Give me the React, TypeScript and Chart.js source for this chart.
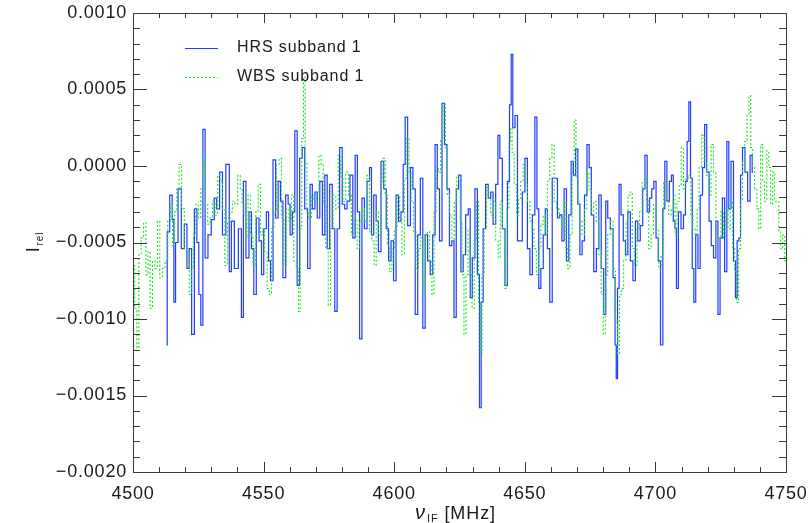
import React, { useEffect, useRef } from 'react';
import { Chart, registerables } from 'chart.js';

Chart.register(...registerables);

// ---- axes ----
const X_MIN = 4500;
const X_MAX = 4750;
const Y_MIN = -0.002;
const Y_MAX = 0.001;
const X_MAJOR = 50;
const X_MINOR = 10;
const Y_MAJOR = 0.0005;
const Y_MINOR = 0.0001;
const UNIT = 1e-4; // values below are in units of 1e-4

const SERIES_LABELS = ['HRS subband 1', 'WBS subband 1'];

// ---- HRS subband 1 (blue, solid) ----
const HRS_FREQ = [
  4512.8, 4513.4, 4514.7, 4515.3, 4516.0, 4516.6, 4517.9, 4519.1, 4520.2, 4521.1,
  4521.9, 4523.0, 4524.0, 4524.9, 4525.5, 4526.4, 4527.1, 4528.1, 4529.3, 4530.6,
  4531.6, 4532.5, 4533.8, 4534.7, 4536.4, 4537.3, 4538.0, 4539.6, 4541.1, 4541.9,
  4542.6, 4543.9, 4544.9, 4545.8, 4546.7, 4547.7, 4548.8, 4549.6, 4550.5, 4551.6,
  4552.2, 4553.1, 4554.1, 4555.1, 4556.0, 4556.9, 4557.9, 4559.0, 4559.8, 4560.5,
  4561.5, 4562.4, 4563.3, 4564.3, 4565.3, 4566.2, 4567.5, 4568.1, 4569.2, 4570.1,
  4571.0, 4572.0, 4573.0, 4573.9, 4574.8, 4575.8, 4576.8, 4577.7, 4578.6, 4579.6,
  4580.6, 4581.5, 4582.4,
  4583.7, 4584.6, 4585.5, 4586.3, 4587.2, 4588.1, 4589.1, 4590.1, 4591.0, 4591.6,
  4592.7, 4593.5, 4594.4, 4595.5, 4596.5, 4597.4, 4598.3, 4599.3, 4600.2, 4601.2,
  4602.1, 4603.1, 4603.8, 4604.6, 4605.7, 4606.7, 4607.6, 4608.5, 4609.5, 4610.5,
  4611.4, 4612.3, 4613.3, 4614.3, 4615.2, 4616.1, 4616.9, 4617.8, 4618.8, 4619.7,
  4620.7, 4621.6, 4622.5, 4623.3, 4624.2,
  4625.1, 4626.0, 4626.8, 4627.9, 4628.8, 4629.4, 4630.4, 4631.4, 4632.3, 4633.0,
  4633.6, 4634.5, 4635.5, 4636.5, 4637.4, 4638.3, 4639.4, 4640.0, 4640.9, 4641.9,
  4642.9, 4643.8, 4644.5, 4645.1, 4645.7, 4646.8, 4647.6, 4648.5, 4649.6, 4650.5,
  4651.5, 4652.4, 4653.4, 4654.3, 4655.0, 4655.7, 4656.6, 4657.5, 4658.2, 4659.1,
  4660.0, 4661.0, 4662.1, 4662.9, 4663.8, 4664.6, 4665.5,
  4666.4, 4667.3, 4668.2, 4669.0, 4669.9, 4670.7, 4671.5, 4672.4, 4673.3, 4674.3,
  4675.0, 4675.9, 4676.9, 4677.9, 4678.8, 4679.7, 4680.7, 4681.3, 4682.2, 4683.3,
  4684.3, 4684.8, 4685.2, 4685.8, 4686.4, 4687.3, 4688.1, 4689.0, 4689.9, 4690.9,
  4691.9, 4692.8, 4693.7, 4694.7, 4695.6, 4696.4, 4697.3, 4698.2, 4699.0, 4699.8,
  4700.7, 4701.5, 4702.4, 4703.3, 4703.9, 4704.9, 4705.8, 4706.5, 4707.2,
  4707.8, 4708.3, 4709.3, 4710.3, 4711.2, 4711.8, 4712.5, 4713.1, 4713.8, 4714.4,
  4715.0, 4715.9, 4716.7, 4717.6, 4718.5, 4719.2, 4720.1, 4721.0, 4721.8, 4722.7,
  4723.6, 4724.3, 4725.2, 4726.1, 4726.9, 4727.8, 4728.4, 4729.5, 4730.3, 4731.0,
  4731.6, 4732.3, 4732.9, 4733.8, 4734.8, 4735.8, 4736.7, 4737.4,
];
const HRS_VAL = [
  -11.7, -4.3, -1.9, -3.5, -8.9, -5.0, -1.5, -5.4, -3.8, -6.7,
  -5.4, -11.0, -2.8, -5.0, -8.4, -10.4, 2.4, -6.0, -4.5, -3.5,
  -2.1, -2.8, -0.4, -4.5, 0.1, -6.9, -3.6, -6.7, -4.1, -9.9,
  -1.0, -6.0, -3.0, -5.4, -8.4, -3.4, -4.9, -7.1, -4.1, -3.0,
  -6.2, -7.5, 0.4, -3.4, -1.0, -2.3, -7.3, -1.9, -2.5, -4.5,
  -3.0, 2.3, -7.8, 0.5, 1.2, -2.8, -6.7, -1.2, -2.8, -1.7,
  -3.4, -1.0, -4.5, -0.6, -5.4, -1.2, -4.1, -9.5, -4.1, 1.2,
  -2.5, -2.8, -2.3,
  -0.6, -4.7, 0.7, -3.0, -11.3, -2.1, -4.1, -1.0, -0.1, -4.5,
  -1.9, -3.6, -5.6, 0.3, -1.5, -4.1, -6.2, -4.9, -7.5, -1.9,
  -3.6, -3.0, 0.1, 3.2, -3.9, -0.1, -1.5, -9.7, -4.5, -0.8,
  -10.6, -4.5, -6.2, -7.1, -4.5, 1.4, -1.5, -4.9, 4.1, 1.4,
  -1.5, -5.2, -4.9, -9.9, -1.5,
  -0.6, -6.9, -5.8, -3.2, -2.8, -8.6, -6.0, -1.5, -7.1, -15.8,
  -8.9, -4.1, -1.2, -2.1, -1.7, -3.8, -1.2, 2.0, 0.5, -4.1,
  -7.8, -1.0, 4.0, 7.3, 2.5, 3.3, -4.9, -4.9, -1.7, 0.5,
  -5.4, -7.1, -3.2, 3.2, -2.8, -8.0, -6.7, -4.5, -2.8, -5.4,
  -8.9, -0.8, -0.8, -3.4, -3.2, -4.9, -1.5,
  -6.2, -3.2, 0.3, -0.6, 1.1, -2.5, -5.8, -4.9, -1.9, 1.4,
  -0.1, -3.2, -6.9, -5.4, -1.9, -6.7, -9.7, -2.3, -3.4, -4.1,
  -7.3, -11.7, -13.9, -8.0, -1.2, -3.2, -4.9, -5.8, -3.0, -6.2,
  -7.5, -3.6, -4.9, -3.9, -1.5, 0.7, -3.0, -2.1, -1.5, -1.0,
  -4.7, -6.2, -11.7, -2.8, 0.3, -2.3, -1.0, -0.6, -3.6,
  -4.1, -8.0, -3.0, -4.1, -3.2, -1.0, 1.6, 4.2, -0.8, -6.7,
  -8.9, -4.5, -6.7, -1.9, -0.1, 2.7, -0.4, -3.6, -5.2, -6.0,
  -3.6, -9.7, -4.7, -2.1, -6.9, 1.6, -2.8, 0.3, -6.2, -8.6,
  -4.9, -4.7, -0.6, 1.2, -0.4, -2.3, 0.7, -0.4,
];

// ---- WBS subband 1 (green, dotted) ----
const WBS_FREQ = [
  4500.2, 4501.0, 4501.9, 4502.6, 4503.6, 4504.5, 4505.4, 4506.1, 4507.0, 4507.9,
  4508.9, 4509.7, 4510.8, 4511.7, 4512.8, 4513.8, 4514.7, 4515.6, 4516.3, 4517.2,
  4518.1, 4519.1, 4520.2, 4521.1, 4521.9, 4522.7, 4523.6, 4524.5, 4525.5, 4526.4,
  4527.2, 4528.1, 4529.1, 4530.0, 4530.9, 4531.9, 4532.9, 4533.8, 4534.7, 4535.7,
  4536.7, 4537.6, 4538.5, 4539.6, 4540.6, 4541.5,
  4542.0, 4542.9, 4543.6, 4544.5, 4545.4, 4546.5, 4547.5, 4548.4, 4549.3, 4550.0,
  4550.9, 4551.8, 4552.6, 4553.5, 4554.4, 4555.4, 4556.4, 4557.3, 4558.2, 4559.2,
  4560.2, 4561.1, 4562.0, 4563.0, 4563.7, 4564.3, 4564.9, 4565.6, 4566.2, 4566.9,
  4567.8, 4568.8, 4569.7, 4570.7, 4571.6, 4572.4, 4573.3, 4574.3, 4575.2, 4576.1,
  4577.1, 4578.1, 4579.0, 4579.9, 4580.9, 4582.0, 4583.0,
  4584.2, 4585.3, 4586.3, 4587.2, 4588.1, 4589.1, 4590.1, 4591.0, 4591.9, 4592.7,
  4593.5, 4594.4, 4595.2, 4596.1, 4597.0, 4597.8, 4598.7, 4599.5, 4600.6, 4601.6,
  4602.5, 4603.4, 4604.4, 4605.3, 4606.1, 4606.9, 4607.8, 4608.9, 4609.8, 4610.5,
  4611.4, 4612.3, 4613.1, 4614.0, 4614.9, 4615.6, 4616.5, 4617.4, 4618.2, 4619.1,
  4620.0, 4620.7, 4621.6, 4622.5, 4623.5, 4624.4,
  4624.9, 4625.6, 4626.3, 4627.1, 4627.9, 4628.6, 4629.4, 4630.2, 4631.1, 4631.9,
  4632.7, 4633.2, 4634.0, 4634.9, 4635.8, 4636.5, 4637.4, 4638.3, 4639.4, 4640.2,
  4641.0, 4641.9, 4642.8, 4643.6, 4644.2, 4644.8, 4645.5, 4646.4, 4647.3, 4648.0,
  4648.9, 4649.8, 4650.6, 4651.5, 4652.4, 4653.1, 4654.0, 4654.9, 4655.7, 4656.6,
  4657.5, 4658.2, 4659.1, 4660.0, 4660.8, 4661.7, 4662.6, 4663.6, 4664.6, 4665.5,
  4666.0, 4666.9, 4667.7, 4668.6, 4669.2, 4670.0, 4670.7, 4671.5, 4672.4, 4673.3,
  4674.1, 4675.0, 4675.9, 4676.9, 4677.8, 4678.8, 4679.7, 4680.4, 4681.3, 4682.2,
  4683.3, 4684.3, 4685.2, 4685.8, 4686.6, 4687.3, 4688.4, 4689.1, 4689.9, 4690.7,
  4691.6, 4692.4, 4693.5, 4694.4, 4695.4, 4696.3, 4697.0, 4697.9, 4698.8, 4699.8,
  4700.7, 4701.8, 4702.6, 4703.7, 4704.6, 4705.6, 4706.5, 4707.2,
  4707.8, 4708.7, 4709.5, 4710.3, 4711.2, 4712.1, 4713.1, 4714.0, 4714.7, 4715.7,
  4716.3, 4717.2, 4718.2, 4719.1, 4720.0, 4720.8, 4721.8, 4722.7, 4723.6, 4724.6,
  4725.6, 4726.5, 4727.4, 4728.2, 4729.1, 4730.0, 4730.7, 4731.4, 4732.3, 4732.9,
  4733.8, 4734.6, 4735.5, 4736.1, 4736.9, 4737.6, 4738.4, 4739.3, 4739.9, 4740.7,
  4741.4, 4742.2, 4743.1, 4743.7, 4744.5, 4745.3, 4746.0, 4746.9, 4747.6, 4748.3,
  4749.1, 4749.9,
];
const WBS_VAL = [
  -6.5, -9.3, -11.9, -5.8, -4.7, -3.7, -7.1, -5.6, -9.3, -6.2,
  -6.7, -3.6, -7.3, -6.7, -6.2, -3.6, -2.5, -5.2, -3.0, -1.5,
  0.1, -2.8, -5.4, -6.2, -8.4, -6.7, -4.5, -2.5, -3.4, -1.5,
  0.5, -2.5, -3.8, -3.4, -2.3, -3.2, -0.6, -1.0, -2.8, -6.5,
  -3.6, -3.0, -2.3, -2.5, -0.6, -1.5,
  -2.5, -3.2, -4.7, -1.9, -4.5, -6.5, -3.0, -1.2, -4.5, -4.1,
  -5.6, -8.0, -8.4, -4.1, -3.0, 0.1, 0.5, -3.4, -6.5, -2.8,
  -3.6, -1.9, -6.2, -6.7, -9.5, -4.1, 1.8, 5.8, 0.3, -3.0,
  -3.4, -1.9, -2.3, -1.7, 0.7, 0.1, -2.5, -5.4, -9.1, -4.1,
  -1.9, -2.8, 0.7, -0.8, -2.3, -0.4, -1.9,
  -4.5, -3.4, -5.4, -3.6, -2.8, -3.6, -0.6, -4.3, -4.9, -6.5,
  -3.0, -4.5, -1.0, 0.5, -1.9, -5.2, -6.9, -5.4, -4.1, -1.9,
  -3.4, -5.8, -0.8, 1.8, -0.4, -2.3, -4.3, -6.7, -5.4, -4.7,
  -8.4, -4.5, -4.3, -6.2, -8.4, -3.0, -0.1, -0.4, 1.8, 4.0,
  1.2, -1.9, -3.2, -4.9, -2.3, -0.6,
  -1.0, -3.6, -7.1, -11.0, -7.1, -4.1, -7.1, -9.3, -4.9, -2.3,
  -8.9, -12.3, -7.1, -4.1, -1.4, -2.1, -3.2, -2.3, -4.9, -6.0,
  -2.3, -4.1, -8.0, -2.8, 1.6, 2.5, 0.9, -1.2, -3.2, -2.1,
  -1.0, 0.1, -1.2, -2.3, -3.6, -4.1, -5.4, -7.1, -5.4, -3.8,
  -3.2, -4.5, -1.0, 0.5, 1.4, -2.3, -2.8, -3.4, -4.1, -2.3,
  -5.4, -6.7, -4.5, 0.3, 3.0, -0.8, -2.3, -3.6, -4.5, -2.8,
  -0.4, -1.5, -3.0, -2.3, -3.6, -5.8, -8.4, -11.0, -7.1, -4.5,
  -3.6, -6.7, -10.2, -12.3, -8.4, -8.0, -6.2, -3.6, -1.9, -1.7,
  -5.4, -6.5, -4.1, -3.0, -1.0, -0.6, -2.3, -5.4, -4.5, -2.5,
  -4.1, -6.7, -5.8, -1.0, -2.3, -3.2, -2.8, -1.9,
  -4.5, -2.3, -1.2, 1.2, -1.5, -0.8, -0.6, -3.2, -4.1, -4.5,
  -2.8, -0.1, 2.0, 0.3, -0.6, -1.9, 1.4, -0.4, -4.5, -4.7,
  -3.0, -4.7, -2.8, -4.1, -2.3, -5.4, -6.9, -8.9, -5.4, -2.3,
  0.3, 1.6, 3.3, 4.6, 1.2, -0.1, -1.5, -2.8, -4.1, 1.4,
  -1.0, -2.3, 1.0, -0.1, -2.5, -0.4, -2.3, -2.3, -4.3, -5.4,
  -4.5, -6.2,
];

const HRS_COLOR = '#1f3cff';
const WBS_COLOR = '#19e619';
const AXIS_COLOR = '#3a3a3a';
const TEXT_COLOR = '#1a1a1a';
const FONT = '"Liberation Sans", Arial, sans-serif';

const spacingPlugin = {
  id: 'letterSpacing',
  beforeDraw(chart: any) {
    try {
      chart.ctx.letterSpacing = '0.8px';
    } catch (e) {
      /* ignore */
    }
  },
};

const framePlugin = {
  id: 'idlFrame',
  afterDatasetsDraw(chart: any) {
    const { ctx, chartArea } = chart;
    const { left, right, top, bottom } = chartArea;
    const xs = chart.scales.x;
    const ys = chart.scales.y;
    ctx.save();
    ctx.strokeStyle = AXIS_COLOR;
    ctx.lineWidth = 1;
    ctx.setLineDash([]);
    ctx.strokeRect(Math.round(left) + 0.5, Math.round(top) + 0.5, Math.round(right - left), Math.round(bottom - top));
    ctx.beginPath();
    const nx = Math.round((X_MAX - X_MIN) / X_MINOR);
    for (let i = 0; i <= nx; i++) {
      const v = X_MIN + i * X_MINOR;
      const px = Math.round(xs.getPixelForValue(v)) + 0.5;
      const len = (v - X_MIN) % X_MAJOR === 0 ? 10 : 5;
      ctx.moveTo(px, bottom);
      ctx.lineTo(px, bottom - len);
      ctx.moveTo(px, top);
      ctx.lineTo(px, top + len);
    }
    const ny = Math.round((Y_MAX - Y_MIN) / Y_MINOR);
    const majEvery = Math.round(Y_MAJOR / Y_MINOR);
    for (let i = 0; i <= ny; i++) {
      const v = Y_MIN + i * Y_MINOR;
      const py = Math.round(ys.getPixelForValue(v)) + 0.5;
      const len = i % majEvery === 0 ? 14 : 7;
      ctx.moveTo(left, py);
      ctx.lineTo(left + len, py);
      ctx.moveTo(right, py);
      ctx.lineTo(right - len, py);
    }
    ctx.stroke();

    // legend
    const ds = chart.data.datasets;
    const rows = [
      { y: 48, color: ds[1].borderColor, dash: ds[1].borderDash || [], label: ds[1].label },
      { y: 77, color: ds[0].borderColor, dash: ds[0].borderDash || [], label: ds[0].label },
    ];
    try {
      ctx.letterSpacing = '0.9px';
    } catch (e) {
      /* ignore */
    }
    ctx.font = `16px ${FONT}`;
    ctx.textBaseline = 'middle';
    ctx.textAlign = 'left';
    rows.forEach((r) => {
      ctx.beginPath();
      ctx.strokeStyle = r.color;
      ctx.setLineDash(r.dash);
      ctx.moveTo(185, r.y + 0.5);
      ctx.lineTo(218, r.y + 0.5);
      ctx.stroke();
      ctx.setLineDash([]);
      ctx.fillStyle = TEXT_COLOR;
      ctx.fillText(r.label, 237, r.y);
    });

    // x title: nu_IF [MHz]
    const cx = (left + right) / 2;
    ctx.fillStyle = TEXT_COLOR;
    ctx.textBaseline = 'alphabetic';
    ctx.font = `italic 20px ${FONT}`;
    const nuW = ctx.measureText('\u03bd').width;
    ctx.font = `11px ${FONT}`;
    const ifW = ctx.measureText('IF').width;
    ctx.font = `18px ${FONT}`;
    const restW = ctx.measureText(' [MHz]').width;
    let x0 = cx - 4 - (nuW + ifW + 1 + restW) / 2;
    const base = 519;
    ctx.font = `italic 20px ${FONT}`;
    ctx.fillText('\u03bd', x0, base);
    x0 += nuW + 1;
    ctx.font = `11px ${FONT}`;
    ctx.fillText('IF', x0, base + 3);
    x0 += ifW;
    ctx.font = `18px ${FONT}`;
    ctx.fillText(' [MHz]', x0, base);

    // y title: I_rel
    ctx.save();
    ctx.translate(39, 242);
    ctx.rotate(-Math.PI / 2);
    ctx.font = `18px ${FONT}`;
    const iW = ctx.measureText('I').width;
    ctx.font = `10px ${FONT}`;
    const relW = ctx.measureText('rel').width;
    let tx = -(iW + relW + 1) / 2;
    ctx.font = `18px ${FONT}`;
    ctx.fillText('I', tx, 0);
    tx += iW + 1;
    ctx.font = `10px ${FONT}`;
    ctx.fillText('rel', tx, 4);
    ctx.restore();

    ctx.restore();
  },
};

function fmtY(v: number) {
  const s = Math.abs(v).toFixed(4);
  return v < -1e-9 ? '\u2212' + s : s;
}

export default function App() {
  const ref = useRef<HTMLCanvasElement | null>(null);

  useEffect(() => {
    document.body.style.margin = '0';
    const canvas = ref.current;
    if (!canvas) return;
    const hrs = HRS_FREQ.map((f, i) => ({ x: f, y: HRS_VAL[i] * UNIT }));
    const wbs = WBS_FREQ.map((f, i) => ({ x: f, y: WBS_VAL[i] * UNIT }));
    const chart = new Chart(canvas, {
      type: 'line',
      data: {
        datasets: [
          {
            label: SERIES_LABELS[1],
            data: wbs,
            borderColor: WBS_COLOR,
            borderWidth: 1.1,
            borderDash: [2, 2],
            pointRadius: 0,
            stepped: 'middle',
            fill: false,
          },
          {
            label: SERIES_LABELS[0],
            data: hrs,
            borderColor: HRS_COLOR,
            borderWidth: 1.2,
            pointRadius: 0,
            stepped: 'middle',
            fill: false,
          },
        ],
      },
      options: {
        animation: false,
        responsive: true,
        maintainAspectRatio: false,
        events: [],
        layout: { padding: { left: 0, top: 13, right: 25, bottom: 0 } },
        plugins: { legend: { display: false }, tooltip: { enabled: false } },
        scales: {
          x: {
            type: 'linear',
            min: X_MIN,
            max: X_MAX,
            grid: { display: false, drawTicks: false },
            border: { display: false },
            ticks: {
              stepSize: X_MAJOR,
              color: TEXT_COLOR,
              font: { family: FONT, size: 18 },
              padding: 11,
              maxRotation: 0,
              autoSkip: false,
              callback: (v: any) => String(v),
            },
            afterFit: (s: any) => {
              s.height = 51;
              s.paddingLeft = 0;
              s.paddingRight = 0;
            },
          },
          y: {
            type: 'linear',
            min: Y_MIN,
            max: Y_MAX,
            grid: { display: false, drawTicks: false },
            border: { display: false },
            ticks: {
              stepSize: Y_MAJOR,
              color: TEXT_COLOR,
              font: { family: FONT, size: 18 },
              padding: 6,
              autoSkip: false,
              callback: (v: any) => fmtY(Number(v)),
            },
            afterFit: (s: any) => {
              s.width = 133;
              s.paddingTop = 0;
              s.paddingBottom = 0;
            },
          },
        },
      },
      plugins: [spacingPlugin, framePlugin],
    });
    return () => chart.destroy();
  }, []);

  return (
    <div style={{ position: 'relative', width: 811, height: 523 }}>
      <canvas ref={ref} />
    </div>
  );
}
